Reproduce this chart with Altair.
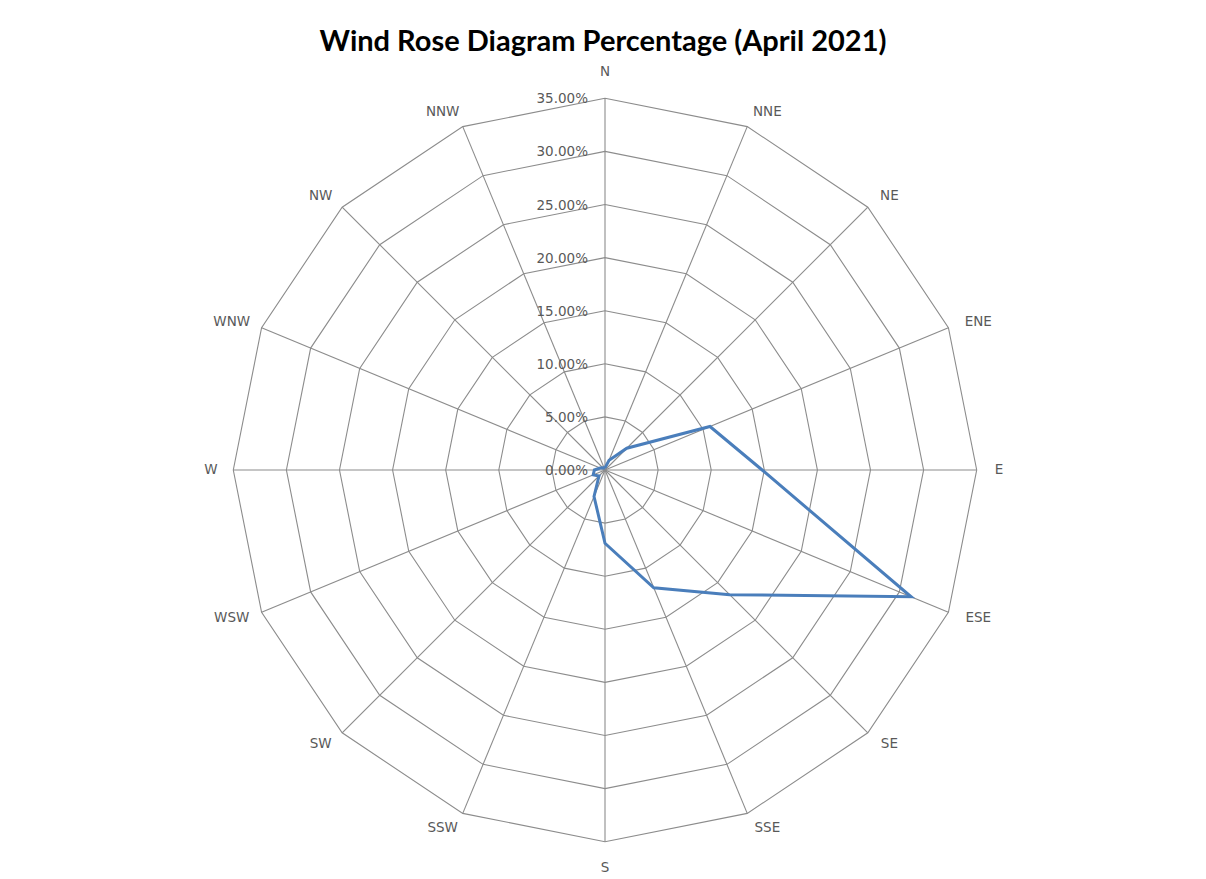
import altair as alt
import pandas as pd

# ---- data ----
directions = ["N", "NNE", "NE", "ENE", "E", "ESE", "SE", "SSE",
              "S", "SSW", "SW", "WSW", "W", "WNW", "NW", "NNW"]
percent = [0.2, 1.0, 2.9, 10.7, 14.8, 31.2, 16.6, 12.0,
           6.9, 2.7, 0.8, 1.2, 1.0, 0.5, 0.3, 0.2]
ring_levels = [5, 10, 15, 20, 25, 30, 35]
tick_values = [0, 5, 10, 15, 20, 25, 30, 35]
tick_labels = ["0.00%", "5.00%", "10.00%", "15.00%", "20.00%", "25.00%", "30.00%", "35.00%"]
title_text = "Wind Rose Diagram Percentage (April 2021)"

n = len(directions)

# ---- tables built from the arrays ----
series_df = pd.DataFrame({
    "idx": list(range(n + 1)),
    "dir": directions + [directions[0]],
    "pct": percent + [percent[0]],
})
rings_df = pd.DataFrame([
    {"ring": lv, "idx": i, "pct": lv} for lv in ring_levels for i in range(n + 1)
])
spokes_df = pd.DataFrame({"idx": list(range(n)), "dir": directions, "pct": [max(ring_levels)] * n})
labels_df = pd.DataFrame({"idx": list(range(n)), "dir": directions, "pct": [max(ring_levels)] * n})
ticks_df = pd.DataFrame({"v": tick_values, "label": tick_labels})

# ---- geometry ----
W, H = 1190, 871
cx, cy = 597, 462
k = 371.7 / 35.0
xs = alt.Scale(domain=[-cx / k, (W - cx) / k], nice=False, zero=False)
ys = alt.Scale(domain=[-(H - cy) / k, cy / k], nice=False, zero=False)

ang = "datum.idx * 2 * PI / %d" % n
grid_color = "#8c8c8c"
text_color = "#595959"
label_font = "DejaVu Sans"
label_size = 13.5

rings = alt.Chart(rings_df).transform_calculate(
    x="datum.pct * sin(%s)" % ang, y="datum.pct * cos(%s)" % ang
).mark_line(color=grid_color, strokeWidth=1.1).encode(
    x=alt.X("x:Q", scale=xs, axis=None),
    y=alt.Y("y:Q", scale=ys, axis=None),
    detail="ring:N",
    order="idx:Q",
)

spokes = alt.Chart(spokes_df).transform_calculate(
    x0="0", y0="0",
    x="datum.pct * sin(%s)" % ang, y="datum.pct * cos(%s)" % ang
).mark_rule(color=grid_color, strokeWidth=1.1).encode(
    x=alt.X("x0:Q", scale=xs, axis=None),
    y=alt.Y("y0:Q", scale=ys, axis=None),
    x2="x:Q",
    y2="y:Q",
)

series = alt.Chart(series_df).transform_calculate(
    x="datum.pct * sin(%s)" % ang, y="datum.pct * cos(%s)" % ang
).mark_line(color="#4a7ebb", strokeWidth=3, strokeJoin="miter").encode(
    x=alt.X("x:Q", scale=xs, axis=None),
    y=alt.Y("y:Q", scale=ys, axis=None),
    order="idx:Q",
)

# category labels sit just outside the outer ring, offset by text size
dir_labels = alt.Chart(labels_df).transform_calculate(
    s="sin(%s)" % ang, c="cos(%s)" % ang
).transform_calculate(
    sg="abs(datum.s) < 0.01 ? 0 : (datum.s > 0 ? 1 : -1)"
).transform_calculate(
    x="datum.pct * datum.s + (18 * datum.s + datum.sg * length(datum.dir) * 4.4) / %f" % k,
    y="datum.pct * datum.c + (abs(datum.c) > 0.99 ? 26 * datum.c : 16 * datum.c) / %f" % k,
).mark_text(font=label_font, fontSize=label_size, color=text_color, align="center", baseline="middle").encode(
    x=alt.X("x:Q", scale=xs, axis=None),
    y=alt.Y("y:Q", scale=ys, axis=None),
    text="dir:N",
)

tick_text = alt.Chart(ticks_df).transform_calculate(
    x0="0"
).mark_text(font=label_font, fontSize=label_size, color=text_color, align="right", baseline="middle", dx=-17, dy=1).encode(
    x=alt.X("x0:Q", scale=xs, axis=None),
    y=alt.Y("v:Q", scale=ys, axis=None),
    text="label:N",
)

chart = alt.layer(rings, spokes, series, dir_labels, tick_text).properties(
    width=W,
    height=H,
    title=alt.TitleParams(title_text, font="Lato", fontSize=29, fontWeight="bold",
                          color="#000000", anchor="middle", dy=53),
    autosize=alt.AutoSizeParams(type="none"),
    padding=0,
).configure_view(stroke=None)

chart.save("out.html", embed_options={"renderer": "svg", "actions": False})
